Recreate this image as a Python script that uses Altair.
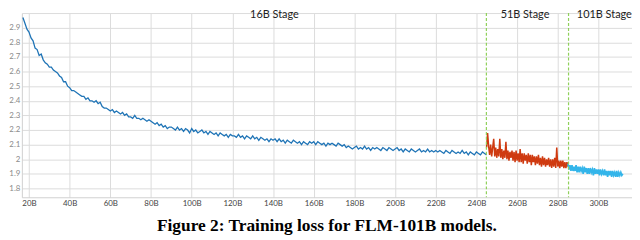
import altair as alt
import pandas as pd
import numpy as np

# ---- data ----
blue_x = list(range(17, 246))
blue_y = [
    2.97, 2.93, 2.89, 2.87, 2.83, 2.81, 2.76, 2.75, 2.71, 2.72,
    2.68, 2.66, 2.65, 2.63, 2.63, 2.61, 2.60, 2.59, 2.57, 2.56,
    2.53, 2.53, 2.50, 2.49, 2.47, 2.47, 2.46, 2.45, 2.44, 2.43,
    2.43, 2.41, 2.42, 2.40, 2.40, 2.39, 2.40, 2.38, 2.39, 2.36,
    2.35, 2.35, 2.34, 2.33, 2.34, 2.32, 2.33, 2.32, 2.31, 2.32,
    2.30, 2.31, 2.29, 2.29, 2.28, 2.30, 2.28, 2.28, 2.27, 2.28,
    2.27, 2.26, 2.27, 2.26, 2.25, 2.24, 2.25, 2.23, 2.24, 2.22,
    2.23, 2.21, 2.22, 2.22, 2.21, 2.20, 2.22, 2.20, 2.21, 2.19,
    2.21, 2.20, 2.18, 2.21, 2.19, 2.20, 2.18, 2.19, 2.20, 2.18,
    2.19, 2.17, 2.19, 2.18, 2.17, 2.18, 2.16, 2.18, 2.17, 2.16,
    2.17, 2.15, 2.17, 2.16, 2.16, 2.15, 2.17, 2.15, 2.16, 2.14,
    2.16, 2.15, 2.14, 2.16, 2.14, 2.15, 2.13, 2.15, 2.14, 2.13,
    2.14, 2.12, 2.14, 2.13, 2.14, 2.12, 2.14, 2.12, 2.13, 2.11,
    2.13, 2.12, 2.11, 2.13, 2.12, 2.11, 2.12, 2.10, 2.12, 2.11,
    2.10, 2.12, 2.11, 2.12, 2.10, 2.12, 2.11, 2.10, 2.11, 2.09,
    2.11, 2.10, 2.11, 2.10, 2.09, 2.11, 2.10, 2.09, 2.10, 2.08,
    2.09, 2.08, 2.07, 2.08, 2.09, 2.07, 2.08, 2.07, 2.09, 2.07,
    2.08, 2.06, 2.08, 2.07, 2.08, 2.07, 2.06, 2.08, 2.07, 2.06,
    2.08, 2.07, 2.06, 2.07, 2.08, 2.06, 2.07, 2.05, 2.07, 2.06,
    2.05, 2.07, 2.06, 2.05, 2.06, 2.07, 2.05, 2.06, 2.05, 2.07,
    2.05, 2.06, 2.05, 2.06, 2.05, 2.06, 2.05, 2.04, 2.06, 2.05,
    2.04, 2.06, 2.05, 2.04, 2.05, 2.04, 2.06, 2.04, 2.05, 2.03,
    2.05, 2.04, 2.03, 2.05, 2.04, 2.03, 2.05, 2.04, 2.03,
]

red_x = list(np.arange(245.0, 285.01, 0.5))
red_y = [
    2.08, 2.18, 2.09, 2.03, 2.10, 2.02, 2.08, 2.14, 2.02, 2.08,
    2.01, 2.07, 2.02, 2.14, 2.01, 2.07, 2.00, 2.06, 2.01, 2.12,
    2.00, 2.06, 1.99, 2.05, 2.01, 2.06, 1.99, 2.05, 1.98, 2.06,
    1.99, 2.04, 1.98, 2.07, 1.98, 2.04, 1.97, 2.04, 1.99, 2.03,
    1.97, 2.04, 1.98, 2.03, 1.96, 2.03, 1.98, 2.02, 1.96, 2.02,
    1.97, 2.03, 1.96, 2.01, 1.95, 2.02, 1.96, 2.01, 1.95, 2.00,
    1.96, 2.01, 1.95, 2.00, 1.94, 2.00, 1.95, 2.01, 1.94, 2.08,
    1.95, 1.99, 1.94, 1.99, 1.95, 1.99, 1.94, 1.98, 1.94, 1.98,
    1.95,
]

cyan_x = list(np.arange(285.0, 312.01, 0.5))
cyan_y = [
    1.97, 1.93, 1.96, 1.92, 1.96, 1.92, 1.95, 1.92, 1.96, 1.91,
    1.95, 1.91, 1.95, 1.92, 1.94, 1.90, 1.95, 1.91, 1.94, 1.90,
    1.94, 1.90, 1.94, 1.91, 1.93, 1.89, 1.94, 1.90, 1.93, 1.90,
    1.93, 1.89, 1.93, 1.90, 1.92, 1.89, 1.93, 1.89, 1.92, 1.88,
    1.92, 1.89, 1.92, 1.88, 1.92, 1.89, 1.91, 1.88, 1.92, 1.88,
    1.91, 1.89, 1.91, 1.89, 1.90,
]

stage_labels = ["16B Stage", "51B Stage", "101B Stage"]
stage_label_x = [140.7, 263.9, 302.9]
stage_boundaries = [244.9, 285.3]

x_ticks = list(range(20, 301, 20))
y_ticks = [1.8, 1.9, 2.0, 2.1, 2.2, 2.3, 2.4, 2.5, 2.6, 2.7, 2.8, 2.9, 3.0]

caption = "Figure 2: Training loss for FLM-101B models."

# ---- tables ----
df = pd.concat([
    pd.DataFrame({"tokens": blue_x, "loss": blue_y, "stage": "16B"}),
    pd.DataFrame({"tokens": red_x, "loss": red_y, "stage": "51B"}),
    pd.DataFrame({"tokens": cyan_x, "loss": cyan_y, "stage": "101B"}),
])
labels_df = pd.DataFrame({"tokens": stage_label_x, "text": stage_labels, "loss": [2.985] * 3})
bounds_df = pd.DataFrame({"tokens": stage_boundaries})

x_scale = alt.Scale(domain=[16.5, 316.5], nice=False, zero=False)
y_scale = alt.Scale(domain=[1.74, 3.0], nice=False, zero=False)

x_axis = alt.Axis(values=x_ticks, labelExpr="datum.value + 'B'", title=None,
                  grid=True, gridColor="#dcdcdc", domainColor="#d0d0d0",
                  ticks=False, labelFont="Lato", labelFontSize=8,
                  labelColor="#444444", labelPadding=2, labelOverlap=False)
y_axis = alt.Axis(values=y_ticks,
                  labelExpr="datum.value >= 2.95 ? '' : format(datum.value, '~g')",
                  title=None, grid=True, gridColor="#dcdcdc", domainColor="#d0d0d0",
                  ticks=False, labelFont="Lato", labelFontSize=8,
                  labelColor="#8a8a8a", labelPadding=2, minExtent=14, maxExtent=14,
                  labelOverlap=False)

lines = alt.Chart(df).mark_line(clip=True).encode(
    x=alt.X("tokens:Q", scale=x_scale, axis=x_axis),
    y=alt.Y("loss:Q", scale=y_scale, axis=y_axis),
    color=alt.Color("stage:N",
                    scale=alt.Scale(domain=["16B", "51B", "101B"],
                                    range=["#1f74b6", "#cf3a10", "#33b5ea"]),
                    legend=None),
    strokeWidth=alt.StrokeWidth("stage:N",
                                scale=alt.Scale(domain=["16B", "51B", "101B"],
                                                range=[1.3, 1.7, 1.9]),
                                legend=None),
    detail="stage:N",
)

rules = alt.Chart(bounds_df).mark_rule(color="#8fd05a", strokeDash=[3, 2], strokeWidth=1.2).encode(
    x=alt.X("tokens:Q", scale=x_scale, axis=x_axis),
)

texts = alt.Chart(labels_df).mark_text(font="Lato", fontSize=11, color="#222222",
                                       baseline="middle", align="center").encode(
    x=alt.X("tokens:Q", scale=x_scale, axis=x_axis),
    y=alt.Y("loss:Q", scale=y_scale, axis=y_axis),
    text="text:N",
)

chart = alt.layer(lines, rules, texts).properties(
    width=616, height=186, padding=0,
    title=alt.TitleParams(caption, orient="bottom", anchor="middle",
                          font="Liberation Serif", fontSize=17.5, fontWeight="bold",
                          color="#000000", offset=10),
).configure_view(stroke=None)

chart.save("out.html", embed_options={"renderer": "svg", "actions": False})
